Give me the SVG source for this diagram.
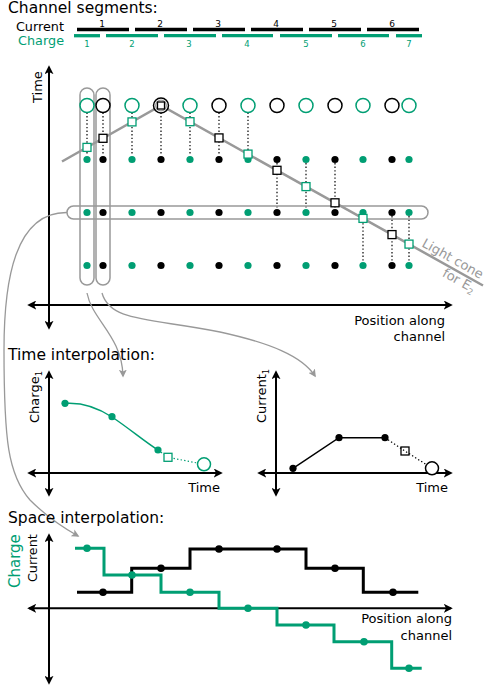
<svg xmlns="http://www.w3.org/2000/svg" width="485" height="686" viewBox="0 0 485 686">
<defs>
<style>
text{font-family:"DejaVu Sans","Liberation Sans",sans-serif;fill:#000}
.h{font-size:15.5px}
.lbl{font-size:13px}
.g{fill:#009e73}
.ax{stroke:#000;stroke-width:2;fill:none;marker-start:url(#ah);marker-end:url(#ah)}
.gr{stroke:#999;stroke-width:1.3;fill:none;marker-end:url(#gh)}
.pill{stroke:#999;stroke-width:1.5;fill:none}
.dot{stroke:#000;stroke-width:1.2;stroke-dasharray:1.4 2.2;fill:none}
.dotg{stroke:#009e73;stroke-width:1.2;stroke-dasharray:1.4 2.2;fill:none}
.cg{stroke:#009e73;stroke-width:1.5;fill:#fff}
.cb{stroke:#000;stroke-width:1.5;fill:#fff}
.sg{stroke:#009e73;stroke-width:1.3;fill:#fff}
.sb{stroke:#000;stroke-width:1.3;fill:#fff}
.fg{fill:#009e73}
.fb{fill:#000}
</style>
<marker id="ah" viewBox="0 0 10 10" refX="8" refY="5" markerWidth="9" markerHeight="9" markerUnits="userSpaceOnUse" orient="auto-start-reverse"><path d="M0,0 L10,5 L0,10 L2.5,5 z" fill="#000"/></marker>
<marker id="gh" viewBox="0 0 10 10" refX="8" refY="5" markerWidth="8" markerHeight="8" markerUnits="userSpaceOnUse" orient="auto"><path d="M0,0 L10,5 L0,10 L2.5,5 z" fill="#999"/></marker>
</defs>

<g id="segments">
<text class="h" x="8" y="12.5">Channel segments:</text>
<text x="64" y="31" font-size="12.8" text-anchor="end">Current</text>
<text x="64" y="44.5" font-size="12.8" text-anchor="end" class="g">Charge</text>
<g stroke="#000" stroke-width="3.3">
<line x1="77" y1="29.5" x2="129" y2="29.5"/><line x1="135" y1="29.5" x2="187" y2="29.5"/><line x1="193" y1="29.5" x2="245" y2="29.5"/><line x1="251" y1="29.5" x2="303" y2="29.5"/><line x1="309" y1="29.5" x2="361" y2="29.5"/><line x1="367" y1="29.5" x2="419" y2="29.5"/>
</g>
<g stroke="#009e73" stroke-width="3.3">
<line x1="74" y1="35.7" x2="100" y2="35.7"/><line x1="106" y1="35.7" x2="158" y2="35.7"/><line x1="164" y1="35.7" x2="216" y2="35.7"/><line x1="222" y1="35.7" x2="273" y2="35.7"/><line x1="280" y1="35.7" x2="332" y2="35.7"/><line x1="338" y1="35.7" x2="389" y2="35.7"/><line x1="396" y1="35.7" x2="422" y2="35.7"/>
</g>
<g font-size="9" text-anchor="middle">
<text x="102" y="26.5">1</text><text x="160" y="26.5">2</text><text x="218" y="26.5">3</text><text x="276" y="26.5">4</text><text x="334" y="26.5">5</text><text x="392" y="26.5">6</text>
</g>
<g font-size="8.5" text-anchor="middle" class="g">
<text class="g" x="87" y="47">1</text><text class="g" x="132" y="47">2</text><text class="g" x="189" y="47">3</text><text class="g" x="247" y="47">4</text><text class="g" x="306" y="47">5</text><text class="g" x="363" y="47">6</text><text class="g" x="409" y="47">7</text>
</g>
</g>

<g id="main-axes">
<line class="ax" x1="49" y1="67" x2="49" y2="328"/>
<line class="ax" x1="29" y1="305" x2="451" y2="305"/>
<text class="lbl" transform="translate(42,103) rotate(-90)">Time</text>
<text class="lbl" x="445" y="325" text-anchor="end">Position along</text>
<text class="lbl" x="445" y="341" text-anchor="end">channel</text>
</g>

<g id="connectors">
<g id="dotted">
<line class="dot" x1="87" y1="112.5" x2="87" y2="155.5"/>
<line class="dot" x1="103" y1="112.5" x2="103" y2="155.5"/>
<line class="dot" x1="132" y1="112.5" x2="132" y2="155.5"/>
<line class="dot" x1="161" y1="112.5" x2="161" y2="155.5"/>
<line class="dot" x1="190" y1="112.5" x2="190" y2="155.5"/>
<line class="dot" x1="219" y1="112.5" x2="219" y2="155.5"/>
<line class="dot" x1="248" y1="112.5" x2="248" y2="155.5"/>
<line class="dot" x1="277" y1="163" x2="277" y2="209"/>
<line class="dot" x1="306" y1="163" x2="306" y2="209"/>
<line class="dot" x1="335" y1="163" x2="335" y2="209"/>
<line class="dot" x1="363" y1="216" x2="363" y2="262"/>
<line class="dot" x1="392" y1="216" x2="392" y2="262"/>
<line class="dot" x1="409" y1="216" x2="409" y2="262"/>
</g>
<path d="M87,293 C92,320 122,336 123,376" class="gr"/>
<path d="M102,293 C110,322 150,318 220,332 C270,343 302,356 315,376" class="gr"/>
<path d="M67,212.5 C15,212 4,280 4,350 C4,440 8,475 30,500 C45,515 62,527 78,536" class="gr"/>
</g>

<g id="light-cone">
<path d="M62,161.5 L161,105.5 L483,285.5" stroke="#999" stroke-width="2.5" fill="none"/>
<g transform="translate(421,246) rotate(29.2)" font-size="13" fill="#999">
<text x="0" y="0" style="fill:#999">Light cone</text>
<text x="68" y="16" text-anchor="end" style="fill:#999">for E<tspan font-size="8.5" dy="3" style="fill:#999">2</tspan></text>
</g>
</g>

<g id="pills">
<rect class="pill" x="80" y="88" width="14" height="197" rx="7"/>
<rect class="pill" x="96" y="88" width="14" height="197" rx="7"/>
<rect class="pill" x="67" y="206" width="361" height="13" rx="6.5"/>
</g>

<g id="top-circles">
<circle class="cg" cx="87" cy="105.5" r="7"/>
<circle class="cb" cx="103" cy="105.5" r="7"/>
<circle class="cg" cx="132" cy="105.5" r="7"/>
<circle class="cb" cx="161" cy="105.5" r="7.5"/>
<circle cx="161" cy="105.5" r="5.3" stroke="#999" stroke-width="1.3" fill="none"/>
<circle class="cg" cx="190" cy="105.5" r="7"/>
<circle class="cb" cx="219" cy="105.5" r="7"/>
<circle class="cg" cx="248" cy="105.5" r="7"/>
<circle class="cb" cx="277" cy="105.5" r="7"/>
<circle class="cg" cx="306" cy="105.5" r="7"/>
<circle class="cb" cx="335" cy="105.5" r="7"/>
<circle class="cg" cx="363" cy="105.5" r="7"/>
<circle class="cb" cx="392" cy="105.5" r="7"/>
<circle class="cg" cx="409" cy="105.5" r="7"/>
</g>

<g id="dot-rows">
<g class="fg">
<circle cx="87" cy="159.5" r="3.6"/><circle cx="132" cy="159.5" r="3.6"/><circle cx="190" cy="159.5" r="3.6"/><circle cx="248" cy="159.5" r="3.6"/><circle cx="306" cy="159.5" r="3.6"/><circle cx="363" cy="159.5" r="3.6"/><circle cx="409" cy="159.5" r="3.6"/>
<circle cx="87" cy="212.5" r="3.6"/><circle cx="132" cy="212.5" r="3.6"/><circle cx="190" cy="212.5" r="3.6"/><circle cx="248" cy="212.5" r="3.6"/><circle cx="306" cy="212.5" r="3.6"/><circle cx="363" cy="212.5" r="3.6"/><circle cx="409" cy="212.5" r="3.6"/>
<circle cx="87" cy="265.5" r="3.6"/><circle cx="132" cy="265.5" r="3.6"/><circle cx="190" cy="265.5" r="3.6"/><circle cx="248" cy="265.5" r="3.6"/><circle cx="306" cy="265.5" r="3.6"/><circle cx="363" cy="265.5" r="3.6"/><circle cx="409" cy="265.5" r="3.6"/>
</g>
<g class="fb">
<circle cx="103" cy="159.5" r="3.6"/><circle cx="161" cy="159.5" r="3.6"/><circle cx="219" cy="159.5" r="3.6"/><circle cx="277" cy="159.5" r="3.6"/><circle cx="335" cy="159.5" r="3.6"/><circle cx="392" cy="159.5" r="3.6"/>
<circle cx="103" cy="212.5" r="3.6"/><circle cx="161" cy="212.5" r="3.6"/><circle cx="219" cy="212.5" r="3.6"/><circle cx="277" cy="212.5" r="3.6"/><circle cx="335" cy="212.5" r="3.6"/><circle cx="392" cy="212.5" r="3.6"/>
<circle cx="103" cy="265.5" r="3.6"/><circle cx="161" cy="265.5" r="3.6"/><circle cx="219" cy="265.5" r="3.6"/><circle cx="277" cy="265.5" r="3.6"/><circle cx="335" cy="265.5" r="3.6"/><circle cx="392" cy="265.5" r="3.6"/>
</g>
</g>

<g id="squares">
<rect class="sg" x="83" y="143.4" width="8" height="8"/>
<rect class="sb" x="99" y="134.3" width="8" height="8"/>
<rect class="sg" x="128" y="117.9" width="8" height="8"/>
<rect class="sb" x="157.5" y="102" width="7" height="7"/>
<rect class="sg" x="186" y="117.7" width="8" height="8"/>
<rect class="sb" x="215" y="133.9" width="8" height="8"/>
<rect class="sg" x="244" y="150.1" width="8" height="8"/>
<rect class="sb" x="273" y="166.3" width="8" height="8"/>
<rect class="sg" x="302" y="182.6" width="8" height="8"/>
<rect class="sb" x="331" y="198.8" width="8" height="8"/>
<rect class="sg" x="359" y="214.4" width="8" height="8"/>
<rect class="sb" x="388" y="230.6" width="8" height="8"/>
<rect class="sg" x="405" y="240.1" width="8" height="8"/>
</g>

<g id="time-interp">
<text class="h" x="8" y="360">Time interpolation:</text>
<g id="charge-time">
<line class="ax" x1="49" y1="372" x2="49" y2="495"/>
<line class="ax" x1="29" y1="473" x2="221" y2="473"/>
<text class="lbl" transform="translate(39,423) rotate(-90)">Charge<tspan font-size="8.5" dy="3">1</tspan></text>
<text class="lbl" x="220" y="492" text-anchor="end">Time</text>
<path d="M65,403.3 C85,402 100,409 112,417 C130,429 145,442 158,450" stroke="#009e73" stroke-width="1.5" fill="none"/>
<path d="M158,450 L168,457.3 L204,464.3" class="dotg"/>
<circle class="fg" cx="65" cy="403.3" r="3.6"/>
<circle class="fg" cx="112" cy="416.7" r="3.6"/>
<circle class="fg" cx="158" cy="450" r="3.6"/>
<rect x="164" y="453.3" width="8" height="8" stroke="#009e73" stroke-width="1.3" fill="#fff"/>
<circle class="cg" cx="204" cy="464.3" r="6.5"/>
</g>
<g id="current-time">
<line class="ax" x1="276" y1="372" x2="276" y2="495"/>
<line class="ax" x1="259" y1="473" x2="451" y2="473"/>
<text class="lbl" transform="translate(266,423) rotate(-90)">Current<tspan font-size="8.5" dy="3">1</tspan></text>
<text class="lbl" x="448" y="492" text-anchor="end">Time</text>
<path d="M293,468.3 L339,437.7 L385,437.7" stroke="#000" stroke-width="1.5" fill="none"/>
<path d="M385,437.7 L405,451 L432,468.3" class="dot"/>
<circle class="fb" cx="293" cy="468.3" r="3.6"/>
<circle class="fb" cx="339" cy="437.7" r="3.6"/>
<circle class="fb" cx="385" cy="437.7" r="3.6"/>
<rect x="401" y="447" width="8" height="8" stroke="#000" stroke-width="1.3" fill="none"/>
<circle class="cb" cx="432" cy="468.3" r="6.5"/>
</g>
</g>

<g id="space-interp">
<text class="h" x="8" y="523">Space interpolation:</text>
<line class="ax" x1="49" y1="535" x2="49" y2="683"/>
<line class="ax" x1="29" y1="608.3" x2="451" y2="608.3"/>
<text transform="translate(19.5,588) rotate(-90)" font-size="15" class="g">Charge</text>
<text transform="translate(37,582) rotate(-90)" font-size="12.7">Current</text>
<text class="lbl" x="452" y="623" text-anchor="end">Position along</text>
<text class="lbl" x="452" y="640" text-anchor="end">channel</text>
<path d="M77,592.3 H131.7 V568.3 H190 V549 H306 V568.3 H363.3 V592.3 H418.3" stroke="#000" stroke-width="3" fill="none"/>
<g class="fb">
<circle cx="103" cy="592.3" r="3.8"/><circle cx="161" cy="568.3" r="3.8"/><circle cx="219" cy="549" r="3.8"/><circle cx="277" cy="549" r="3.8"/><circle cx="335" cy="568.3" r="3.8"/><circle cx="393" cy="592.3" r="3.8"/>
</g>
<path d="M75,548.3 H104 V575 H161 V592.3 H219 V608.3 H277 V625 H334 V641.7 H391.7 V668.3 H421.7" stroke="#009e73" stroke-width="3" fill="none"/>
<g class="fg">
<circle cx="87" cy="548.3" r="3.8"/><circle cx="132" cy="575" r="3.8"/><circle cx="190" cy="592.3" r="3.8"/><circle cx="248" cy="608.3" r="3.8"/><circle cx="306" cy="625" r="3.8"/><circle cx="364" cy="641.7" r="3.8"/><circle cx="409" cy="668.3" r="3.8"/>
</g>
</g>
</svg>
